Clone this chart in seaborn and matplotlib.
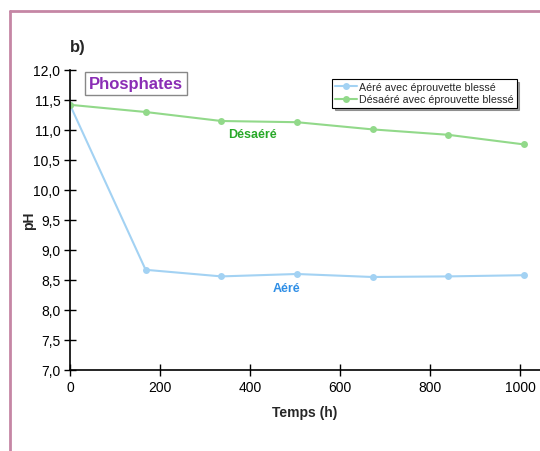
import matplotlib
matplotlib.use("Agg")
import matplotlib.pyplot as plt
from matplotlib.lines import Line2D
from matplotlib.ticker import FuncFormatter
import seaborn as sns
import pandas as pd

# Measurements: pH versus immersion time
temps_h = [0, 168, 336, 504, 672, 840, 1008]
ph_aere = [11.42, 8.67, 8.56, 8.60, 8.55, 8.56, 8.58]
ph_desaere = [11.42, 11.30, 11.15, 11.13, 11.01, 10.92, 10.76]
series_names = ["Aéré avec éprouvette blessé", "Désaéré avec éprouvette blessé"]
series_colors = ["#a3d2f3", "#92d98a"]

y_ticks = [7.0, 7.5, 8.0, 8.5, 9.0, 9.5, 10.0, 10.5, 11.0, 11.5, 12.0]
x_ticks = [0, 200, 400, 600, 800, 1000]

df = pd.DataFrame({
    "Temps (h)": temps_h * 2,
    "pH": ph_aere + ph_desaere,
    "Série": [series_names[0]] * len(temps_h) + [series_names[1]] * len(temps_h),
})

sns.set_theme(style="white")
plt.rcParams["font.family"] = ["Liberation Sans", "DejaVu Sans"]

fig = plt.figure(figsize=(5.4, 4.52), dpi=100)
ax = fig.add_axes([70 / 540, (452 - 371) / 452, (540 - 70) / 540, 300 / 452])

sns.lineplot(
    data=df, x="Temps (h)", y="pH", hue="Série",
    palette=dict(zip(series_names, series_colors)),
    marker="o", markersize=5, markeredgewidth=0, linewidth=1.5,
    ax=ax,
)

ax.set_xlim(0, 1044)
ax.set_ylim(7.0, 12.0)
ax.set_xticks(x_ticks)
ax.set_yticks(y_ticks)
ax.yaxis.set_major_formatter(FuncFormatter(lambda v, p: f"{v:.1f}".replace(".", ",")))
ax.tick_params(axis="both", direction="inout", length=8, width=1, color="black",
               labelsize=10, labelcolor="black", pad=3,
               left=True, bottom=True)
for side in ("top", "right"):
    ax.spines[side].set_visible(False)
for side in ("left", "bottom"):
    ax.spines[side].set_color("black")
    ax.spines[side].set_linewidth(1.2)

ax.set_xlabel("Temps (h)", fontsize=10, fontweight="bold", labelpad=8)
ax.set_ylabel("pH", fontsize=10, fontweight="bold")
ax.yaxis.set_label_coords(-0.072, 0.5)

leg = ax.legend(
    loc="upper left", bbox_to_anchor=((332 - 70) / 470, (371 - 80) / 300),
    fontsize=7.7, frameon=True, fancybox=False, shadow=True,
    edgecolor="black", borderpad=0.3, labelspacing=0.2,
    handlelength=2.0, handletextpad=0.2, borderaxespad=0,
)
leg.get_frame().set_linewidth(0.8)

ax.text(42, 11.77, "Phosphates", fontsize=12, fontweight="bold", color="#8a2db5",
        ha="left", va="center",
        bbox=dict(boxstyle="square,pad=0.25", facecolor="white", edgecolor="#888888", linewidth=1))
ax.text(405, 10.93, "Désaéré", fontsize=9, fontweight="bold", color="#28a828",
        ha="center", va="center")
ax.text(482, 8.36, "Aéré", fontsize=9, fontweight="bold", color="#2e8ee6",
        ha="center", va="center")

fig.text(70 / 540, 1 - 48 / 452, "b)", fontsize=12, fontweight="bold",
         ha="left", va="center")

# Outer panel frame (left and top edges)
fig.add_artist(Line2D([9.5 / 540, 9.5 / 540], [0, 1 - 12 / 452],
                      color="#c586a5", linewidth=2, transform=fig.transFigure))
fig.add_artist(Line2D([9.5 / 540, 1], [1 - 12 / 452, 1 - 12 / 452],
                      color="#c586a5", linewidth=2, transform=fig.transFigure))

fig.savefig("out.png", dpi=100)
